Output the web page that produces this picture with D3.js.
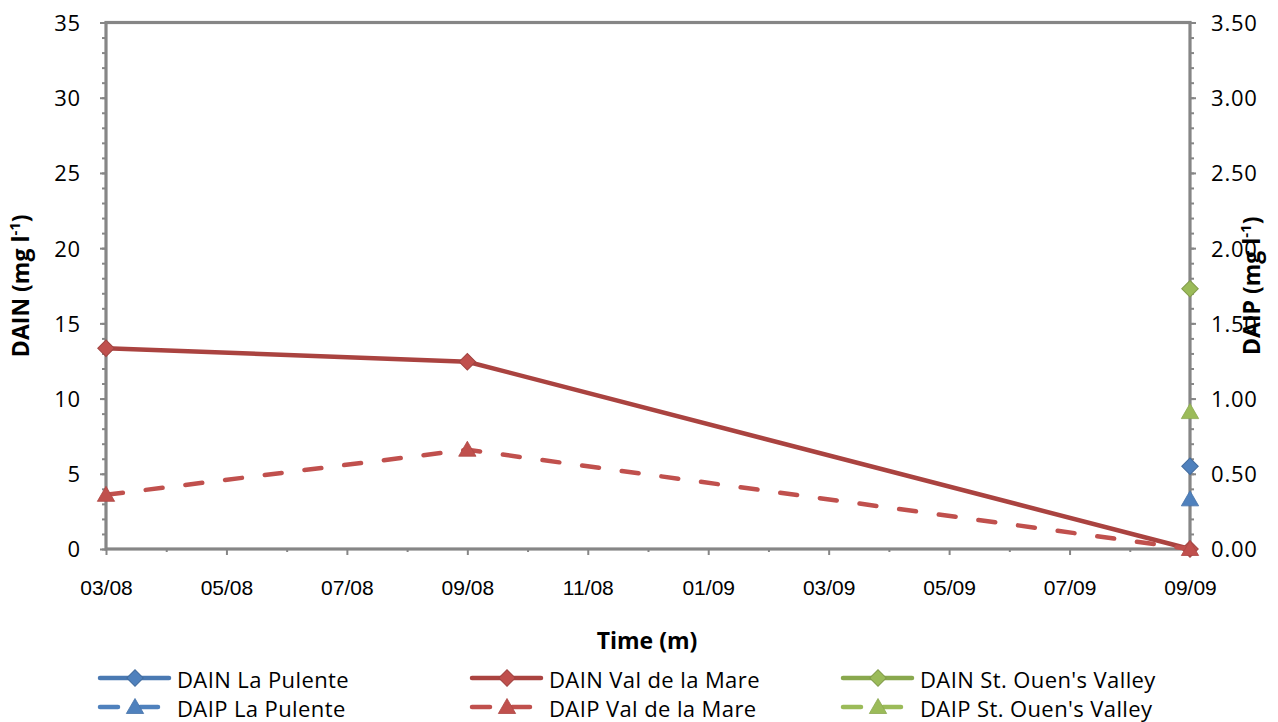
<!DOCTYPE html>
<html>
<head>
<meta charset="utf-8">
<script src="https://cdn.jsdelivr.net/npm/d3@7"></script>
<style>
  html, body { margin: 0; padding: 0; background: #fff; }
  svg { display: block; }
</style>
</head>
<body>
<svg id="chart" width="1278" height="722"></svg>
<script>
// Monthly categories along the time axis (month/year)
const months = ["03/08","04/08","05/08","06/08","07/08","08/08","09/08","10/08","11/08","12/08",
                "01/09","02/09","03/09","04/09","05/09","06/09","07/09","08/09","09/09"];
const labelledMonths = ["03/08","05/08","07/08","09/08","11/08","01/09","03/09","05/09","07/09","09/09"];

// Sampling dates
const sampleDates = ["03/08","09/08","09/09"];

// Dissolved available inorganic nitrogen (mg l-1), primary axis
const dainLaPulente     = [null, null, 5.5];
const dainValDeLaMare   = [13.35, 12.45, 0];
const dainStOuenValley  = [null, null, 17.3];

// Dissolved available inorganic phosphorus (mg l-1), secondary axis
const daipLaPulente     = [null, null, 0.33];
const daipValDeLaMare   = [0.36, 0.66, 0];
const daipStOuenValley  = [null, null, 0.91];

const leftTicks  = [0, 5, 10, 15, 20, 25, 30, 35];
const rightTicks = [0, 0.5, 1, 1.5, 2, 2.5, 3, 3.5];

const seriesNames = ["DAIN La Pulente","DAIN Val de la Mare","DAIN St. Ouen's Valley",
                     "DAIP La Pulente","DAIP Val de la Mare","DAIP St. Ouen's Valley"];

// ---- layout & styles ----
const svg = d3.select("#chart");
const plot = { left: 106, right: 1190, top: 22.5, bottom: 549 };
const axisGrey = "#868686";
const blue = "#4F81BD", red = "#C0504D", green = "#9BBB59";
const blueDark = "#4A79B2", redDark = "#AA4340", greenDark = "#89A84E";
const tickFont = "'Open Sans', sans-serif";

const x = d3.scalePoint().domain(months).range([plot.left, plot.right]);
const yL = d3.scaleLinear().domain([0, 35]).range([plot.bottom, plot.top]);
const yR = d3.scaleLinear().domain([0, 3.5]).range([plot.bottom, plot.top]);

const series = [
  { name: seriesNames[0], values: dainLaPulente,    y: yL, line: blueDark,  fill: blue,  marker: "diamond", dashed: false },
  { name: seriesNames[1], values: dainValDeLaMare,  y: yL, line: redDark,   fill: red,   marker: "diamond", dashed: false },
  { name: seriesNames[2], values: dainStOuenValley, y: yL, line: greenDark, fill: green, marker: "diamond", dashed: false },
  { name: seriesNames[3], values: daipLaPulente,    y: yR, line: blue,      fill: blue,  marker: "triangle", dashed: true },
  { name: seriesNames[4], values: daipValDeLaMare,  y: yR, line: red,       fill: red,   marker: "triangle", dashed: true },
  { name: seriesNames[5], values: daipStOuenValley, y: yR, line: green,     fill: green, marker: "triangle", dashed: true }
];

const diamond = d3.symbol().type(d3.symbolSquare).size(136);
const triangleSym = d3.symbol().type(d3.symbolTriangle).size(130);

function drawMarker(g, s, cx, cy) {
  if (s.marker === "diamond") {
    g.append("path")
      .attr("d", diamond())
      .attr("transform", `translate(${cx},${cy}) rotate(45)`)
      .attr("fill", s.fill)
      .attr("stroke", d3.color(s.fill).darker(0.5))
      .attr("stroke-width", 1);
  } else {
    g.append("path")
      .attr("d", triangleSym())
      .attr("transform", `translate(${cx},${cy + 1.5})`)
      .attr("fill", s.fill)
      .attr("stroke", d3.color(s.fill).darker(0.3))
      .attr("stroke-width", 0.8);
  }
}

// ---- plot frame ----
svg.append("rect")
  .attr("x", plot.left).attr("y", plot.top)
  .attr("width", plot.right - plot.left).attr("height", plot.bottom - plot.top)
  .attr("fill", "none").attr("stroke", axisGrey).attr("stroke-width", 3.2);

function styleAxis(g) {
  g.select(".domain").remove();
  g.selectAll(".tick line").attr("stroke", axisGrey).attr("stroke-width", 2);
  g.selectAll("text").attr("fill", "#000");
}

// Left axis: minor then major ticks
svg.append("g").attr("transform", `translate(${plot.left},0)`)
  .call(d3.axisLeft(yL).tickValues(d3.range(0, 36, 1)).tickSize(4).tickFormat(""))
  .call(styleAxis);
svg.append("g").attr("transform", `translate(${plot.left},0)`)
  .call(d3.axisLeft(yL).tickValues(leftTicks).tickSize(6).tickPadding(19).tickFormat(d3.format("d")))
  .call(styleAxis)
  .call(g => g.selectAll("text").attr("font-family", tickFont).attr("font-size", 22)
                .attr("letter-spacing", "0.8px").attr("dy", "0.36em"));

// Right axis
svg.append("g").attr("transform", `translate(${plot.right},0)`)
  .call(d3.axisRight(yR).tickValues(d3.range(0, 36, 1).map(v => v / 10)).tickSize(4).tickFormat(""))
  .call(styleAxis);
svg.append("g").attr("transform", `translate(${plot.right},0)`)
  .call(d3.axisRight(yR).tickValues(rightTicks).tickSize(6).tickPadding(15).tickFormat(d3.format(".2f")))
  .call(styleAxis)
  .call(g => g.selectAll("text").attr("font-family", tickFont).attr("font-size", 22)
                .attr("letter-spacing", "0.8px").attr("dy", "0.36em"));

// Bottom axis: every month ticked, every second month labelled
svg.append("g").attr("transform", `translate(0,${plot.bottom})`)
  .call(d3.axisBottom(x).tickValues(months.filter(m => !labelledMonths.includes(m))).tickSize(3).tickFormat(""))
  .call(styleAxis);
svg.append("g").attr("transform", `translate(0,${plot.bottom})`)
  .call(d3.axisBottom(x).tickValues(labelledMonths).tickSize(6).tickPadding(25))
  .call(styleAxis)
  .call(g => g.selectAll("text").attr("font-family", "'Liberation Sans', Arial, sans-serif").attr("font-size", 21));

// ---- axis titles ----
const titleFont = "'Open Sans', sans-serif";
function unitTitle(sel, label) {
  sel.attr("font-family", titleFont).attr("font-weight", "bold").attr("font-size", 23)
     .attr("text-anchor", "middle").attr("fill", "#000");
  sel.append("tspan").text(label + " (mg l");
  sel.append("tspan").attr("font-size", 15).attr("dy", "-0.6em").text("-1");
  sel.append("tspan").attr("dy", "0.4em").text(")");
}
svg.append("text")
  .attr("transform", `translate(29,${(plot.top + plot.bottom) / 2}) rotate(-90)`)
  .call(unitTitle, "DAIN");
svg.append("text")
  .attr("transform", `translate(1260,${(plot.top + plot.bottom) / 2}) rotate(-90)`)
  .call(unitTitle, "DAIP");
svg.append("text")
  .attr("x", 647).attr("y", 649)
  .attr("font-family", titleFont).attr("font-weight", "bold").attr("font-size", 23)
  .attr("text-anchor", "middle").attr("fill", "#000")
  .text("Time (m)");

// ---- series ----
const dash = "17 23";
series.forEach(s => {
  const pts = sampleDates.map((d, i) => ({ d, v: s.values[i] })).filter(p => p.v != null);
  const g = svg.append("g");
  const line = d3.line().x(p => x(p.d)).y(p => s.y(p.v));
  if (pts.length > 1) {
    g.append("path")
      .attr("d", line(pts))
      .attr("fill", "none")
      .attr("stroke", s.line)
      .attr("stroke-width", 4.5)
      .attr("stroke-linecap", "round")
      .attr("stroke-linejoin", "round")
      .attr("stroke-dasharray", s.dashed ? dash : null);
  }
  pts.forEach(p => drawMarker(g, s, x(p.d), s.y(p.v)));
});

// ---- legend ----
const legendCols = [98, 470, 841];
const legendRows = [678, 707];
series.forEach((s, i) => {
  const cx = legendCols[i % 3], cy = legendRows[Math.floor(i / 3)];
  const g = svg.append("g");
  g.append("line")
    .attr("x1", cx + 2).attr("x2", cx + 71).attr("y1", cy).attr("y2", cy)
    .attr("stroke", s.line).attr("stroke-width", 4.5).attr("stroke-linecap", "round")
    .attr("stroke-dasharray", s.dashed ? "18 22" : null);
  drawMarker(g, s, cx + 37, cy);
  g.append("text")
    .attr("x", cx + 79).attr("y", cy + 2)
    .attr("dy", "0.36em")
    .attr("font-family", tickFont).attr("font-size", 22).attr("letter-spacing", "0.4px").attr("fill", "#000")
    .text(s.name);
});
</script>
</body>
</html>
